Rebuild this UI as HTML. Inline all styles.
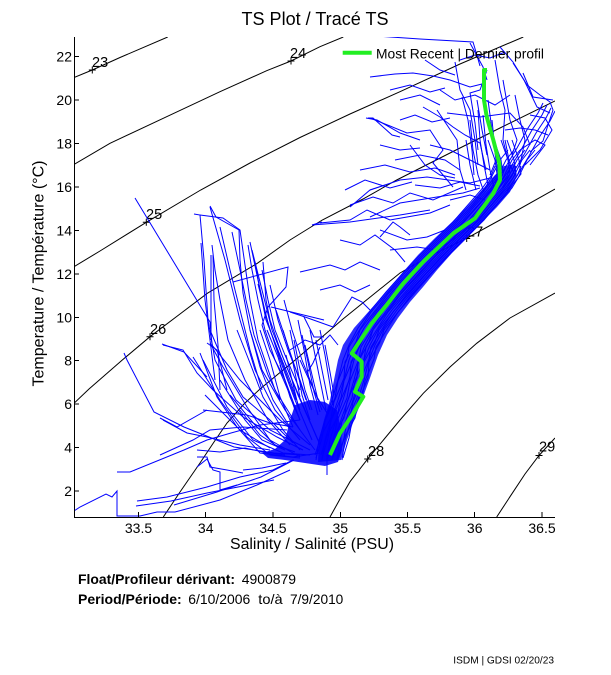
<!DOCTYPE html>
<html><head><meta charset="utf-8"><style>html,body{margin:0;padding:0;background:#fff}svg{display:block}</style></head>
<body>
<svg width="611" height="675" viewBox="0 0 611 675" xmlns="http://www.w3.org/2000/svg" font-family="'Liberation Sans', Arial, sans-serif">
<defs>
<clipPath id="c"><rect x="74" y="37" width="481" height="480"/></clipPath>
<polyline id="b1" points="330,460 333,440 339,420 346,400 352,380 357,360 363,345 372,328 385,310 400,292 418,272 434,255 451,238 467,222 481,206 495,190 505,176 509,166"/>
<polyline id="b2" points="328,458 334,438 337,421 347,398 350,381 359,359 361,347 374,326 383,312 402,290 416,274 436,253 449,240 469,220 479,208 497,188 503,178 512,160 520,150"/>
<polyline id="b3" points="325,455 331,436 341,418 344,402 354,378 355,362 366,342 370,330 388,307 398,294 420,270 432,257 453,236 465,224 483,204 493,192 507,174 505,160 498,140"/>
<polyline id="b4" points="505,185 515,170 527,150 538,130 548,115 553,105"/>
</defs>
<rect width="611" height="675" fill="#fff"/>

<text x="241.5" y="25" font-size="18" textLength="147" lengthAdjust="spacingAndGlyphs">TS Plot / Tracé TS</text>

<g clip-path="url(#c)" fill="none" stroke="#000" stroke-width="1">
<polyline points="74,77.5 92.3,70 120,57.5 167.7,37"/>
<polyline points="74,164.5 110,143.3 166.7,116.7 220,91.7 266.7,70.7 291,61 320,46.7 343.3,37"/>
<polyline points="74,266.7 100,251 146.3,222.3 200.7,190 250,163 300,137.5 350,114 400,91.7 460,64 523.3,37"/>
<polyline points="74,403.3 89,389 122.3,360 150,336.7 180,314 207.3,293.3 257.3,263.3 290,240 322.3,220 363,199 396.7,180 450,153 500,128 555,101"/>
<polyline points="163.3,517 180,492 200,463 214,442 227,423 244,404 260,389 294,361 343,319 400,273 430,256 466.7,238.3 500,220 555,189"/>
<polyline points="330,517 340,499 350,481.7 367.7,459 400,420 423.3,393.3 450,367 476.7,343.3 510,318 555,293"/>
<polyline points="496.7,517 510,496.7 525,474 539,455.5 555,438"/>
</g>
<g stroke="#000" stroke-width="1" fill="none">
<path d="M88.8,70 h7 M92.3,66.5 v7"/>
<path d="M287.5,61 h7 M291,57.5 v7"/>
<path d="M142.8,222.3 h7 M146.3,218.8 v7"/>
<path d="M146.5,336.7 h7 M150,333.2 v7"/>
<path d="M463.2,238.5 h7 M466.7,235 v7"/>
<path d="M364.2,459 h7 M367.7,455.5 v7"/>
<path d="M535.5,455.5 h7 M539,452 v7"/>
</g>
<g font-size="14.5" fill="#000">
<text x="92" y="67">23</text>
<text x="290" y="58">24</text>
<text x="146" y="219">25</text>
<text x="150" y="334">26</text>
<text x="467" y="236.5">27</text>
<text x="368" y="456">28</text>
<text x="539" y="451.5">29</text>
</g>

<g clip-path="url(#c)">
<polygon fill="#0000ff" fill-opacity="0.82" points="318,462 319,440 324,420 330,400 334,380 338,360 343,345 354,328 370,310 386,292 403,272 418,255 435,238 452,222 468,206 482,190 494,176 504,166 514,164 517,176 510,192 497,207 482,222 467,238 452,253 437,270 423,287 410,302 398,318 387,335 378,355 370,378 362,400 354,420 347,440 341,460"/>
<polygon fill="#0000ff" fill-opacity="0.88" points="290,420 295,405 310,400 325,402 337,410 341,430 342,450 338,462 325,466 305,463 285,460 268,458 262,453 275,449 285,440"/>
<g fill="none" stroke="#0000ff" stroke-width="1">
<use href="#b1" transform="translate(-14,0)"/><use href="#b1" transform="translate(-8,0)"/><use href="#b1" transform="translate(-3,0)"/><use href="#b1" transform="translate(2,0)"/><use href="#b1" transform="translate(7,0)"/><use href="#b1" transform="translate(12,0)"/>
<use href="#b2" transform="translate(-12,0)"/><use href="#b2" transform="translate(-6,0)"/><use href="#b2" transform="translate(0,0)"/><use href="#b2" transform="translate(5,0)"/><use href="#b2" transform="translate(10,0)"/><use href="#b2" transform="translate(15,0)"/>
<use href="#b3" transform="translate(-10,0)"/><use href="#b3" transform="translate(-4,0)"/><use href="#b3" transform="translate(3,0)"/><use href="#b3" transform="translate(9,0)"/><use href="#b3" transform="translate(14,0)"/>
<use href="#b4" transform="translate(-6,0)"/><use href="#b4" transform="translate(-2,3)"/><use href="#b4" transform="translate(2,6)"/><use href="#b4" transform="translate(-10,-2)"/>

<!-- upper tangle -->
<polyline points="376,36 420,39 473,42 476,52 480,66"/>
<polyline points="470,43 483,67 487,80"/>
<polyline points="370,77 395,74 413,73 433,76 450,80 470,87 482,84"/>
<polyline points="500,47 513,62 527,85 540,95 550,102 553,110 548,125 543,141 530,152"/>
<polyline points="513,63 524,80 537,107 550,113"/>
<polyline points="423,107 440,117 453,127 465,135 480,143 486,170"/>
<polyline points="437,110 447,125 457,140 460,170 466,190"/>
<polyline points="370,118 390,126 407,133 430,130 443,150 433,163 453,187"/>
<polyline points="447,113 480,117 510,113 523,127 530,145"/>
<polyline points="370,190 400,180 427,177 470,183 490,178"/>
<polyline points="370,217 400,203 437,197 463,193 480,188"/>
<polyline points="503,80 510,120 517,140 512,155"/>
<polyline points="487,70 480,90 470,93 475,123 478,150"/>
<polyline points="523,73 533,97 553,100"/>
<polyline points="366,118 377,120 400,133 420,140"/>
<polyline points="455,62 460,90 470,110 475,140 478,165"/>
<polyline points="495,60 500,90 505,110 503,140 508,160"/>
<polyline points="515,95 520,120 525,140 520,165"/>
<polyline points="462,97 468,120 472,150 474,175"/>
<polyline points="430,145 450,150 470,160 490,170"/>
<polyline points="395,160 420,155 445,160 460,170"/>
<polyline points="410,145 425,165 440,175 455,178"/>
<polyline points="530,115 545,118 552,130 540,150 525,165"/>
<polyline points="488,100 492,130 496,160 490,175"/>
<polyline points="477,100 482,130 487,155"/>
<polyline points="440,90 455,100 475,95 495,105 510,95"/>
<polyline points="505,130 520,128 535,130 548,135"/>
<polyline points="400,100 420,95 440,105"/>
<polyline points="380,145 400,150 420,148"/>
<polyline points="460,60 475,55 490,58 505,52"/>
<polyline points="478,110 480,140 484,165 488,185"/>
<polyline points="483,115 486,145 490,170 494,188"/>
<polyline points="470,120 473,150 478,175 484,192"/>
<polyline points="492,120 495,150 498,175"/>
<polyline points="466,140 470,165 476,190"/>
<polyline points="505,140 510,165 515,175"/>
<polyline points="520,150 535,140 545,145 530,165"/>
<polyline points="450,200 470,195 485,200"/>
<polyline points="425,60 440,70 455,75"/>
<polyline points="390,90 410,85 430,92 445,88"/>
<polyline points="360,170 385,165 410,172 435,168 455,175"/>
<polyline points="345,190 365,180 390,188 412,182"/>
<polyline points="400,120 415,115 432,122 450,118"/>
<polyline points="415,185 440,188 460,182 480,186"/>

<!-- mid tangle -->
<polyline points="320,223 350,220 367,210 390,220 407,217 430,213 450,205"/>
<polyline points="350,205 373,197 393,203 410,193 433,200 463,187"/>
<polyline points="390,250 417,247 437,250 457,237 470,225"/>
<polyline points="380,230 407,240 427,237 445,230"/>
<polyline points="312,225 350,222 400,215 430,210"/>
<polyline points="350,207 370,190 385,185"/>
<polyline points="368,118 373,118 392,135 400,137"/>
<polyline points="380,237 393,222 400,227 410,235"/>
<polyline points="290,312 305,317 333,327 352,297 362,302 370,310"/>
<polyline points="300,272 330,265 345,270 360,262 380,270"/>
<polyline points="340,240 360,245 375,235 395,250 405,262"/>
<polyline points="320,290 340,285 355,292 370,285"/>
<polyline points="290,350 305,340 320,345 330,335 338,345"/>
<polyline points="312,225 322,222"/>

<!-- left fan -->
<polyline points="135,198 210,322 212,345 240,380 280,420 310,445"/>
<polyline points="194,214 200,215 204,260 208,320 215,360 236,400 270,430 310,450"/>
<polyline points="210,206 216,217 239,230 240,260 243,293 250,330 262,370 285,410 315,450"/>
<polyline points="210,207 225,260 240,320 255,370 275,410 300,440"/>
<polyline points="200,215 223,218 240,230 245,265 250,300 258,340 275,390 300,430"/>
<polyline points="212,245 215,270 220,300 228,340 245,380 268,420 290,445"/>
<polyline points="250,242 258,280 267,320 280,360 295,400 312,440"/>
<polyline points="252,250 262,290 272,330 288,370 305,410 320,445"/>
<polyline points="263,262 266,300 270,320 282,355 298,395 318,440"/>
<polyline points="233,282 288,267 286,287 268,307 262,325 270,350 285,380 300,420"/>
<polyline points="271,307 324,320"/>
<polyline points="304,317 314,337 324,337"/>
<polyline points="162,344 184,352 207,377"/>
<polyline points="207,343 217,350 227,390"/>
<polyline points="211,255 211,340"/>
<polyline points="201,243 205,300 210,340 215,380"/>
<polyline points="213,255 214,300 218,345 220,390"/>
<polyline points="220,227 230,270 240,310 250,350 262,390"/>
<polyline points="232,232 240,270 246,300 254,335 268,375 280,400"/>
<polyline points="248,245 252,270 258,300 265,330 275,360 290,395"/>
<polyline points="255,262 260,290 266,320 278,350 290,380 300,410"/>
<polyline points="258,284 262,300 270,330 283,365 296,400"/>
<polyline points="262,270 268,300 275,330 285,355 300,390"/>
<polyline points="270,285 278,320 288,350 300,380 310,410"/>
<polyline points="276,310 286,340 296,370 306,400"/>
<polyline points="284,300 292,330 302,360 314,390 322,410"/>
<polyline points="290,330 296,360 302,395 310,420"/>
<polyline points="298,320 304,350 310,385 318,415"/>
<polyline points="305,345 312,375 318,400"/>
<polyline points="310,330 316,360 322,390 326,410"/>
<polyline points="316,340 322,370 328,400"/>
<polyline points="294,340 299,365 305,390 312,410"/>
<polyline points="302,335 308,362 314,392 320,412"/>
<polyline points="320,330 325,355 330,385 333,405"/>
<polyline points="286,355 292,380 298,405"/>
<polyline points="280,365 288,390 295,410"/>
<polyline points="325,345 330,372 334,395"/>

<!-- converging fan -->
<polyline points="124,353 127,360 154,412 184,427 234,447 274,453 300,455"/>
<polyline points="200,353 217,397 237,427 260,453 293,457 320,453"/>
<polyline points="193,357 220,400 247,437 270,455 300,458"/>
<polyline points="203,360 227,407 253,440 283,453 310,455"/>
<polyline points="210,343 223,367 247,407 270,440 300,457"/>
<polyline points="163,345 183,350 197,373 213,390 243,417 277,437 303,450"/>
<polyline points="160,418 177,427 207,410"/>
<polyline points="203,410 247,415 270,423 293,427"/>
<polyline points="160,455 193,440 210,430 243,427 287,430"/>
<polyline points="197,457 207,457 210,467 227,470 243,473"/>
<polyline points="210,330 227,370 243,397 270,420 293,443"/>
<polyline points="237,330 250,363 263,397 283,430 300,450"/>
<polyline points="250,330 260,367 273,400 290,427"/>
<polyline points="260,330 270,360 280,397 293,427"/>
<polyline points="267,330 278,357 290,397 300,420"/>
<polyline points="283,330 293,363 300,397"/>
<polyline points="300,360 317,397 327,413"/>
<polyline points="307,373 313,363 320,347"/>
<polyline points="220,380 245,420 262,440 285,450"/>
<polyline points="230,395 255,425 275,445 295,452"/>
<polyline points="240,410 260,435 280,448"/>
<polyline points="205,395 240,430 270,448"/>
<polyline points="327,455 327,475"/>
<polyline points="286,463 262,468 243,470"/>

<!-- bottom lines -->
<polyline points="74,511 80,507 106,494 112,497 117,491 117,516 140,516 157,512 175,512 220,500 257,485 290,470"/>
<polyline points="136,506 171,501 207,493 274,480"/>
<polyline points="174,505 217,492 261,477 294,460"/>
<polyline points="137,501 167,497 207,487 240,477 273,470 293,460"/>
<polyline points="117,472 130,472 184,450 207,440 231,433 260,425 300,420"/>
<polyline points="197,467 207,459 213,470 220,472 220,490 237,485"/>
<polyline points="163,420 187,433 207,437 240,445 270,450"/>
<polyline points="197,450 220,452 245,448 263,452 285,455"/>
</g>
</g>

<polyline clip-path="url(#c)" fill="none" stroke="#22ee22" stroke-width="4" stroke-linejoin="round" points="487,70 484,70 484,100 486.7,116.7 493.3,140 499.3,163.3 500,180 493.3,193.3 475,218.3 453.3,233.3 423.3,261.7 403.3,283.3 386.7,305 371.7,323.3 351.7,353.3 361.7,361.7 361.7,376.7 355,391.7 363.3,396.7 353.3,413.3 340,433.3 330,455"/>

<g stroke="#000" stroke-width="1" fill="none" shape-rendering="crispEdges">
<line x1="74.5" y1="37" x2="74.5" y2="518"/>
<line x1="74" y1="517.5" x2="555" y2="517.5"/>
<path d="M74,56.7 h5 M74,100.1 h5 M74,143.6 h5 M74,187 h5 M74,230.4 h5 M74,273.9 h5 M74,317.3 h5 M74,360.7 h5 M74,404.1 h5 M74,447.6 h5 M74,491 h5"/>
<path d="M138.5,517 v-5 M205.7,517 v-5 M272.9,517 v-5 M340.3,517 v-5 M407.5,517 v-5 M474.7,517 v-5 M542,517 v-5"/>
</g>
<g font-size="14" fill="#000" text-anchor="end">
<text x="72" y="61.7">22</text>
<text x="72" y="105.1">20</text>
<text x="72" y="148.6">18</text>
<text x="72" y="192">16</text>
<text x="72" y="235.4">14</text>
<text x="72" y="278.9">12</text>
<text x="72" y="322.3">10</text>
<text x="72" y="365.7">8</text>
<text x="72" y="409.1">6</text>
<text x="72" y="452.6">4</text>
<text x="72" y="496">2</text>
</g>
<g font-size="14" fill="#000" text-anchor="middle">
<text x="138.5" y="533">33.5</text>
<text x="205.7" y="533">34</text>
<text x="272.9" y="533">34.5</text>
<text x="340.3" y="533">35</text>
<text x="407.5" y="533">35.5</text>
<text x="474.7" y="533">36</text>
<text x="542" y="533">36.5</text>
</g>
<text x="230" y="549" font-size="16" textLength="164" lengthAdjust="spacingAndGlyphs">Salinity / Salinité (PSU)</text>
<text transform="translate(43.5,273.5) rotate(-90)" text-anchor="middle" font-size="15.5" textLength="226" lengthAdjust="spacingAndGlyphs">Temperature / Température (°C)</text>

<line x1="342.7" y1="52.7" x2="371.7" y2="52.7" stroke="#22ee22" stroke-width="4"/>
<text x="376" y="58.5" font-size="14" textLength="168" lengthAdjust="spacingAndGlyphs">Most Recent | Dernier profil</text>

<g font-size="14" fill="#000">
<text x="78" y="584" font-weight="bold" textLength="157" lengthAdjust="spacingAndGlyphs">Float/Profileur dérivant:</text>
<text x="241.7" y="584" textLength="54.3" lengthAdjust="spacingAndGlyphs">4900879</text>
<text x="78" y="604" font-weight="bold" textLength="103.7" lengthAdjust="spacingAndGlyphs">Period/Période:</text>
<text x="188.3" y="604" textLength="62" lengthAdjust="spacingAndGlyphs">6/10/2006</text>
<text x="258.3" y="604" textLength="24.4" lengthAdjust="spacingAndGlyphs">to/à</text>
<text x="290" y="604" textLength="53.3" lengthAdjust="spacingAndGlyphs">7/9/2010</text>
</g>
<text x="453.3" y="663.5" font-size="10.5" textLength="100.7" lengthAdjust="spacingAndGlyphs">ISDM | GDSI 02/20/23</text>
</svg>
</body></html>
